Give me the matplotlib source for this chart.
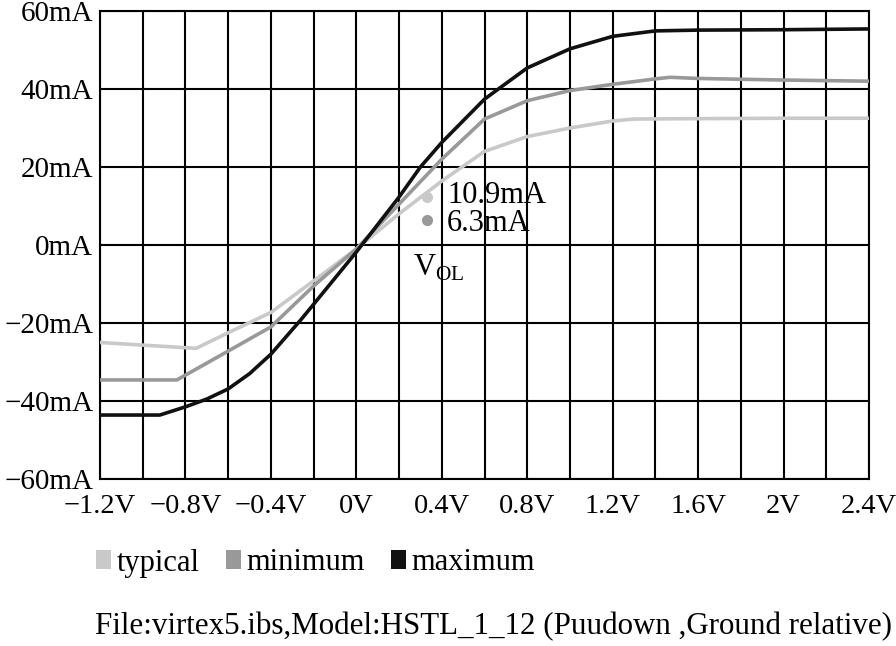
import matplotlib
matplotlib.use("Agg")
import matplotlib.pyplot as plt
from matplotlib.patches import Patch

plt.rcParams['font.family'] = ['Liberation Serif', 'DejaVu Serif']
plt.rcParams['mathtext.fontset'] = 'custom'
plt.rcParams['mathtext.rm'] = 'Liberation Serif'

# I-V curves (V, mA)
typical_v = [-1.2, -0.75, -0.6, -0.4, -0.2, 0.0, 0.2, 0.4, 0.6, 0.8, 1.0, 1.2, 1.3, 1.6, 2.0, 2.4]
typical_i = [-25.0, -26.5, -22.5, -17.3, -9.2, -1.0, 8.0, 16.4, 24.0, 27.8, 30.0, 31.8, 32.3, 32.4, 32.5, 32.5]

minimum_v = [-1.2, -0.84, -0.6, -0.4, -0.2, 0.0, 0.2, 0.4, 0.6, 0.8, 1.0, 1.2, 1.4, 1.47, 1.6, 2.0, 2.4]
minimum_i = [-34.6, -34.6, -27.2, -21.0, -10.5, -1.0, 10.5, 22.0, 32.3, 37.0, 39.6, 41.2, 42.6, 43.0, 42.7, 42.3, 42.0]

maximum_v = [-1.2, -0.92, -0.8, -0.7, -0.6, -0.5, -0.4, -0.26, -0.2, 0.0, 0.2, 0.3, 0.4, 0.6, 0.8, 1.0, 1.2, 1.4, 1.6, 2.0, 2.4]
maximum_i = [-43.6, -43.6, -41.5, -39.5, -36.9, -33.0, -28.0, -19.2, -15.2, -1.8, 12.3, 20.0, 26.3, 37.4, 45.4, 50.3, 53.5, 54.9, 55.1, 55.2, 55.4]

# VOL markers
vol_v = [0.33, 0.33]
vol_i = [12.3, 6.3]
vol_labels = ['10.9mA', '6.3mA']

x_ticks = [-1.2, -0.8, -0.4, 0, 0.4, 0.8, 1.2, 1.6, 2.0, 2.4]
x_labels = ['\u22121.2V', '\u22120.8V', '\u22120.4V', '0V', '0.4V', '0.8V', '1.2V', '1.6V', '2V', '2.4V']
y_ticks = [-60, -40, -20, 0, 20, 40, 60]
y_labels = ['\u221260mA', '\u221240mA', '\u221220mA', '0mA', '20mA', '40mA', '60mA']
x_grid = [-1.2 + 0.2 * k for k in range(19)]

c_typ = '#c9c9c9'
c_min = '#999999'
c_max = '#111111'
fs = 22

fig = plt.figure(figsize=(8.96, 6.46), dpi=100)
ax = fig.add_axes([100 / 896, 1 - 479 / 646, 769 / 896, 468 / 646])

for xv in x_grid:
    ax.axvline(xv, color='black', lw=1.5, zorder=1)
for yv in y_ticks:
    ax.axhline(yv, color='black', lw=1.5, zorder=1)

ax.plot(typical_v, typical_i, color=c_typ, lw=2.6, solid_joinstyle='round', zorder=3)
ax.plot(minimum_v, minimum_i, color=c_min, lw=2.6, solid_joinstyle='round', zorder=3)
ax.plot(maximum_v, maximum_i, color=c_max, lw=2.6, solid_joinstyle='round', zorder=4)

ax.plot(vol_v[0], vol_i[0], 'o', color=c_typ, ms=7, zorder=5)
ax.plot(vol_v[1], vol_i[1], 'o', color=c_min, ms=7, zorder=5)
ax.text(0.425, vol_i[0] + 0.3, vol_labels[0], fontsize=fs, ha='left', va='center', zorder=6)
ax.text(0.425, vol_i[1] - 0.8, vol_labels[1], fontsize=fs, ha='left', va='center', zorder=6)
ax.text(0.265, -5.8, r'V$_{\rm OL}$', fontsize=fs, ha='left', va='center', zorder=6)

ax.set_xlim(-1.2, 2.4)
ax.set_ylim(-60, 60)
ax.set_xticks(x_ticks)
ax.set_xticklabels(x_labels)
ax.set_yticks(y_ticks)
ax.set_yticklabels(y_labels)
ax.tick_params(length=0)
ax.tick_params(axis='y', labelsize=21, pad=5)
ax.tick_params(axis='x', labelsize=20.5, pad=11)
for s in ax.spines.values():
    s.set_linewidth(1.5)
    s.set_color('black')

handles = [Patch(facecolor=c_typ, edgecolor='none', label='typical'),
           Patch(facecolor=c_min, edgecolor='none', label='minimum'),
           Patch(facecolor=c_max, edgecolor='none', label='maximum')]
fig.legend(handles=handles, loc='center left', bbox_to_anchor=(96 / 896, 1 - 563 / 646),
           ncol=3, frameon=False, fontsize=fs, handlelength=0.5, handleheight=0.6,
           handletextpad=0.18, columnspacing=0.85, borderpad=0, borderaxespad=0)

fig.text(95 / 896, 1 - 627 / 646, 'File:virtex5.ibs,Model:HSTL_1_12 (Puudown ,Ground relative)',
         fontsize=22.3, ha='left', va='center')

fig.savefig('out.png', dpi=100)
